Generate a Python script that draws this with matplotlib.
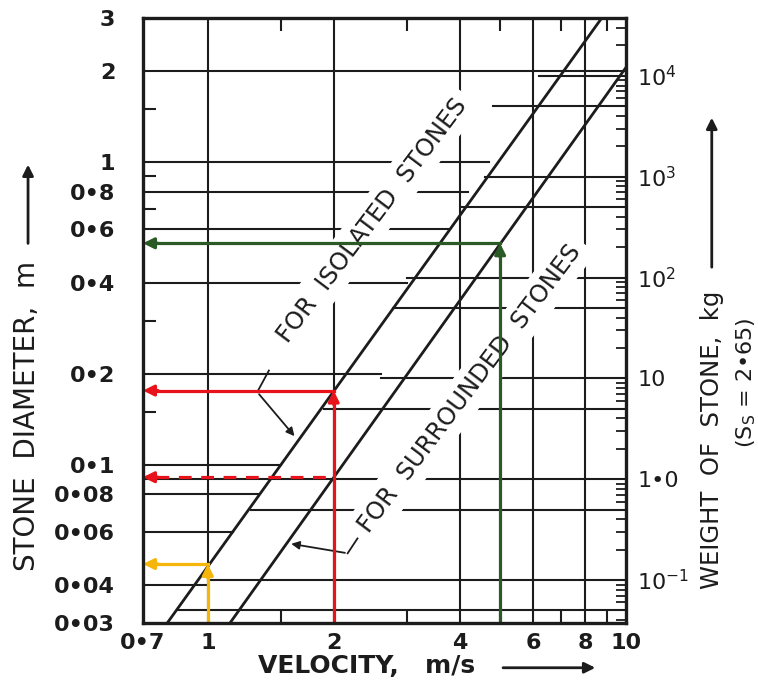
import matplotlib.pyplot as plt
import numpy as np
from matplotlib.patches import FancyArrowPatch
from matplotlib.ticker import FixedLocator, NullFormatter, LogLocator

# design lines: velocity (m/s) -> stone diameter (m)
iso_velocity = [0.80, 8.75]
iso_diameter = [0.03, 3.0]
sur_velocity = [1.13, 10.0]
sur_diameter = [0.03, 2.06]

# worked examples drawn in colour
ex_velocity = [1.0, 2.0, 2.0, 5.0]
ex_diameter = [0.047, 0.176, 0.091, 0.54]
ex_colors = ['#f5b50a', '#e8121a', '#e8121a', '#2b5a26']
ex_dashed = [False, False, True, False]
ex_vertical = [True, True, False, True]

x_ticks = [0.7, 1, 2, 4, 6, 8, 10]
x_labels = ['0•7', '1', '2', '4', '6', '8', '10']
y_ticks = [0.03, 0.04, 0.06, 0.08, 0.1, 0.2, 0.4, 0.6, 0.8, 1, 2, 3]
y_labels = ['0•03', '0•04', '0•06', '0•08', '0•1', '0•2', '0•4', '0•6', '0•8', '1', '2', '3']
w_ticks = [0.1, 1, 10, 100, 1000, 10000]
w_labels = ['10$^{-1}$', '1•0', '10', '10$^2$', '10$^3$', '10$^4$']

SPECIFIC_GRAVITY = 2.65
INK = '#1c1c1c'


def weight(d):
    return SPECIFIC_GRAVITY * 1000 * np.pi / 6 * np.asarray(d) ** 3


def diameter(w):
    return (np.asarray(w) / (SPECIFIC_GRAVITY * 1000 * np.pi / 6)) ** (1 / 3)


# rulings of the printed grid (partial lines, as on the original sheet)
d_rules = [(2, 0.7, 10), (1, 0.7, 4.7), (0.8, 0.7, 4.2), (0.6, 0.7, 3.8), (0.4, 0.7, 3.0),
           (0.2, 0.7, 2.6), (0.1, 0.7, 1.5), (0.08, 0.7, 1.32), (0.06, 0.7, 1.15), (0.04, 0.7, 1.0)]
w_rules = [(1e4, 6.2, 10), (5e3, 4.8, 10), (1e3, 4.6, 10), (500, 4.05, 10), (100, 3.0, 10),
           (50, 2.78, 10), (10, 2.6, 10), (5, 1.9, 10), (1, 0.7, 10), (0.5, 1.27, 10),
           (0.1, 1.0, 10), (0.05, 0.85, 10)]
v_rules = [1, 2, 4, 6, 8]

fig = plt.figure(figsize=(7.58, 6.8), dpi=100)
ax = fig.add_axes([143 / 758, 57 / 680, 483 / 758, 605 / 680])
ax.set_xscale('log')
ax.set_yscale('log')
ax.set_xlim(0.7, 10)
ax.set_ylim(0.03, 3)

for d, v0, v1 in d_rules:
    ax.plot([v0, v1], [d, d], color=INK, lw=1.5, zorder=1)
for w, v0, v1 in w_rules:
    dd = diameter(w)
    ax.plot([v0, v1], [dd, dd], color=INK, lw=1.5, zorder=1)
for v in v_rules:
    ax.plot([v, v], [0.03, 3], color=INK, lw=1.5, zorder=1)

# curve labels, white box breaks the grid like on the print
lab = dict(rotation=53, ha='center', va='center', fontsize=17.5, color=INK, zorder=2,
           transform=ax.transAxes, rotation_mode='anchor',
           bbox=dict(boxstyle='square,pad=0.3', fc='white', ec='none'))
ax.text(0.474, 0.666, 'FOR  ISOLATED  STONES', **lab)
ax.text(0.677, 0.388, 'FOR  SURROUNDED  STONES', **lab)

ax.plot(iso_velocity, iso_diameter, color=INK, lw=2.0, zorder=4)
ax.plot(sur_velocity, sur_diameter, color=INK, lw=2.0, zorder=4)

# leaders
ax.plot([1.40, 1.313], [0.205, 0.174], color=INK, lw=1.3, zorder=4)
ax.annotate('', xy=(1.628, 0.1224), xytext=(1.313, 0.174),
            arrowprops=dict(arrowstyle='-|>', color=INK, lw=1.3, mutation_scale=12), zorder=4)
ax.plot([2.28, 2.16], [0.0571, 0.051], color=INK, lw=1.3, zorder=4)
ax.annotate('', xy=(1.559, 0.055), xytext=(2.16, 0.051),
            arrowprops=dict(arrowstyle='-|>', color=INK, lw=1.3, mutation_scale=12), zorder=4)

# colour read-off examples
for v, d, c, dash, vert in zip(ex_velocity, ex_diameter, ex_colors, ex_dashed, ex_vertical):
    ls = (0, (4, 3)) if dash else '-'
    if vert:
        ax.plot([v, v], [0.03, d * 0.93], color=c, lw=2.3, zorder=5, solid_capstyle='butt')
        ax.annotate('', xy=(v, d), xytext=(v, d * 0.9),
                    arrowprops=dict(arrowstyle='-|>', color=c, lw=2.3, mutation_scale=16,
                                    shrinkA=0, shrinkB=0), zorder=5)
    ax.plot([0.75, v], [d, d], color=c, lw=2.3, ls=ls, zorder=5)
    ax.annotate('', xy=(0.7, d), xytext=(0.76, d),
                arrowprops=dict(arrowstyle='-|>', color=c, lw=2.3, mutation_scale=16,
                                shrinkA=0, shrinkB=0), zorder=5)

# ticks and labels
ax.xaxis.set_major_locator(FixedLocator(x_ticks))
ax.set_xticklabels(x_labels)
ax.xaxis.set_minor_locator(FixedLocator([1.5, 3, 5, 7, 9]))
ax.xaxis.set_minor_formatter(NullFormatter())
ax.yaxis.set_major_locator(FixedLocator(y_ticks))
ax.set_yticklabels(y_labels)
ax.yaxis.set_minor_locator(FixedLocator([0.15, 0.3, 0.7, 0.9, 1.5]))
ax.yaxis.set_minor_formatter(NullFormatter())
ax.tick_params(which='major', length=0, labelsize=16, colors=INK)
ax.tick_params(axis='y', which='major', pad=20)
ax.tick_params(axis='x', which='major', pad=7)
ax.tick_params(which='minor', direction='in', length=9, width=1.5, color=INK, top=True)
for t in ax.get_xticklabels() + ax.get_yticklabels():
    t.set_fontweight('bold')
for s in ax.spines.values():
    s.set_linewidth(2.4)
    s.set_color(INK)
    s.set_zorder(6)

ax2 = ax.twinx()
ax2.set_yscale('log')
ax2.set_ylim(weight(0.03), weight(3))
ax2.yaxis.set_major_locator(FixedLocator(w_ticks))
ax2.set_yticklabels(w_labels)
ax2.yaxis.set_minor_locator(LogLocator(base=10, subs=np.arange(2, 10), numticks=20))
ax2.yaxis.set_minor_formatter(NullFormatter())
ax2.tick_params(which='major', length=0, labelsize=16, pad=8, colors=INK)
ax2.tick_params(which='minor', direction='in', length=7, width=1.3, color=INK)
for s in ax2.spines.values():
    s.set_visible(False)

# axis titles with their arrows
fig.text(0.035, 0.389, 'STONE  DIAMETER,  m', rotation=90, ha='center', va='center',
         fontsize=20, color=INK)
fig.text(0.483, 0.0206, 'VELOCITY,   m/s', ha='center', va='center', fontsize=18,
         color=INK, fontweight='bold')
fig.text(0.939, 0.353, 'WEIGHT  OF  STONE,  kg', rotation=90, ha='center', va='center',
         fontsize=17.5, color=INK)
fig.text(0.984, 0.437, '(S$_\\mathrm{S}$ = 2•65)', rotation=90, ha='center', va='center',
         fontsize=16, color=INK)
arrow = dict(arrowstyle='-|>', color=INK, lw=2.0, mutation_scale=16)
fig.patches.append(FancyArrowPatch((0.037, 0.638), (0.037, 0.762),
                                   transform=fig.transFigure, **arrow))
fig.patches.append(FancyArrowPatch((0.66, 0.018), (0.789, 0.018),
                                   transform=fig.transFigure, **arrow))
fig.patches.append(FancyArrowPatch((0.939, 0.603), (0.939, 0.831),
                                   transform=fig.transFigure, **arrow))

fig.savefig('out.png', dpi=100)
